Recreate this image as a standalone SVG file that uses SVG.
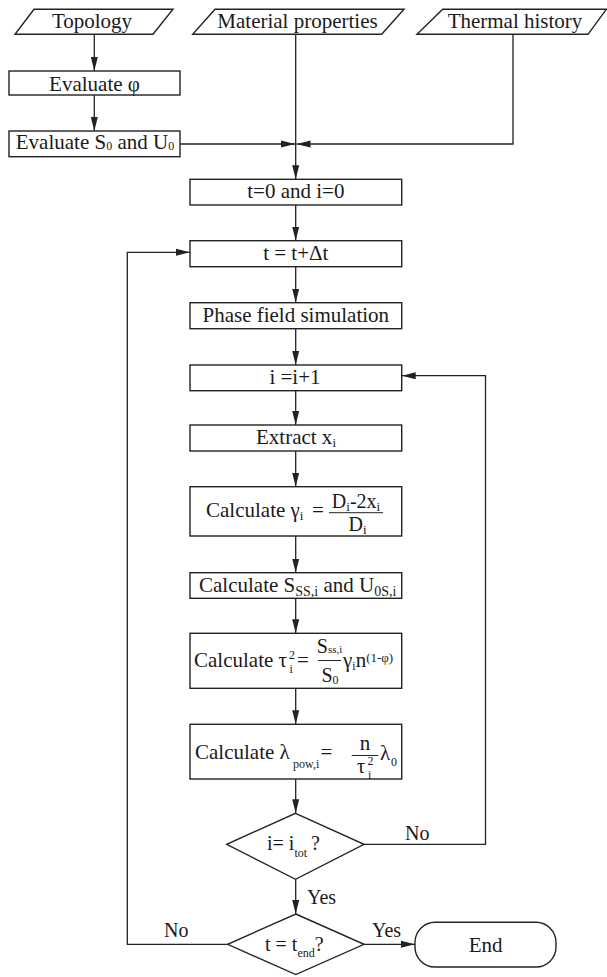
<svg xmlns="http://www.w3.org/2000/svg" width="607" height="977" viewBox="0 0 607 977" font-family="'Liberation Serif', 'Times New Roman', Times, serif">
<style>
.shape{fill:#fff;stroke:#222;stroke-width:1.4}
.ln{fill:none;stroke:#222;stroke-width:1.3}
.arr{marker-end:url(#ah)}
.fl{stroke:#222;stroke-width:1}
text{font-family:'Liberation Serif','Times New Roman',Times,serif;fill:#1a1a1a;font-size:21px}
.m{text-anchor:middle}
.lb{font-size:20px}
.s{font-size:12px}
.s13{font-size:13px}
.s14{font-size:14px}
</style>
<defs>
<marker id="ah" markerUnits="userSpaceOnUse" markerWidth="14" markerHeight="8" refX="14" refY="4" orient="auto"><path d="M0,0.5 L14,4 L0,7.5 z" fill="#222"/></marker>
</defs>
<rect x="0" y="0" width="607" height="977" fill="#fff"/>

<g id="connectors">
<path class="ln arr" d="M94.3,34.3 V71"/>
<path class="ln arr" d="M94.3,95 V131"/>
<path class="ln arr" d="M180,144 H295"/>
<path class="ln arr" d="M513,34.3 V144 H296.5"/>
<path class="ln arr" d="M295.7,34.3 V179.3"/>
<path class="ln arr" d="M295.7,205 V240.7"/>
<path class="ln arr" d="M295.7,266.7 V302.7"/>
<path class="ln arr" d="M295.7,328.7 V365"/>
<path class="ln arr" d="M295.7,390.7 V425"/>
<path class="ln arr" d="M295.7,451 V486.7"/>
<path class="ln arr" d="M295.7,536 V572.7"/>
<path class="ln arr" d="M295.7,598.3 V633.3"/>
<path class="ln arr" d="M295.7,688.3 V724.3"/>
<path class="ln arr" d="M295.7,779 V813.3"/>
<path class="ln arr" d="M295.7,879.3 V914"/>
<path class="ln arr" d="M364,844.3 H485.5 V375.7 H401.7"/>
<path class="ln arr" d="M227.7,944.3 H127.3 V252.3 H190"/>
<path class="ln arr" d="M364,944.3 H415"/>
<text class="lb" x="405" y="840">No</text>
<text class="lb" x="307" y="904">Yes</text>
<text class="lb" x="164" y="936.7">No</text>
<text class="lb" x="372" y="936.7">Yes</text>
</g>

<g id="topology">
<polygon class="shape" points="34,9.3 173,9.3 153,34.3 15,34.3"/>
<text class="m" x="92" y="28.3">Topology</text>
</g>
<g id="material-properties">
<polygon class="shape" points="215,9.3 404,9.3 381.7,34.3 192.7,34.3"/>
<text class="m" x="297.5" y="28.3">Material properties</text>
</g>
<g id="thermal-history">
<polygon class="shape" points="442.7,9.3 606.3,9.3 588,34.3 417,34.3"/>
<text class="m" x="515" y="28.3">Thermal history</text>
</g>
<g id="evaluate-phi">
<rect class="shape" x="9" y="71" width="171" height="24"/>
<text class="m" x="94.5" y="90.5">Evaluate φ</text>
</g>
<g id="evaluate-s0-u0">
<rect class="shape" x="9" y="131" width="171" height="25.7"/>
<text class="m" x="95" y="149">Evaluate S<tspan class="s" dy="1">0</tspan><tspan dy="-1"> and U</tspan><tspan class="s" dy="1">0</tspan></text>
</g>
<g id="init">
<rect class="shape" x="190" y="179.3" width="211.7" height="25.7"/>
<text class="m" x="295.8" y="198">t=0 and i=0</text>
</g>
<g id="time-step">
<rect class="shape" x="190" y="240.7" width="211.7" height="26"/>
<text class="m" x="295.8" y="260">t = t+Δt</text>
</g>
<g id="phase-field">
<rect class="shape" x="190" y="302.7" width="211.7" height="26"/>
<text class="m" x="295.8" y="322">Phase field simulation</text>
</g>
<g id="increment">
<rect class="shape" x="190" y="365" width="211.7" height="25.7"/>
<text class="m" x="295" y="384.3">i =i+1</text>
</g>
<g id="extract">
<rect class="shape" x="190" y="425" width="211.7" height="26"/>
<text class="m" x="296" y="443.5">Extract x<tspan class="s13" dy="3">i</tspan></text>
</g>
<g id="gamma">
<rect class="shape" x="190" y="486.7" width="211.7" height="49.3"/>
<text x="206" y="516.7">Calculate γ<tspan class="s13" dy="3">i</tspan></text>
<text x="312" y="516.7">=</text>
<line class="fl" x1="329" y1="512.7" x2="383" y2="512.7"/>
<text class="m lb" x="356" y="507.5">D<tspan class="s13" dy="3">i</tspan><tspan dy="-3">-2x</tspan><tspan class="s13" dy="3">i</tspan></text>
<text class="m lb" x="357.5" y="530.7">D<tspan class="s13" dy="3">i</tspan></text>
</g>
<g id="stress">
<rect class="shape" x="190" y="572.7" width="211.7" height="25.6"/>
<text x="199" y="591.7">Calculate S<tspan class="s14" dy="4">SS,i</tspan><tspan dy="-4"> and U</tspan><tspan class="s14" dy="4">0S,i</tspan></text>
</g>
<g id="tortuosity">
<rect class="shape" x="190" y="633.3" width="211.7" height="55"/>
<text x="194" y="666.7">Calculate τ</text>
<text class="s" x="289" y="659">2</text>
<text class="s" x="289.5" y="673">i</text>
<text x="297" y="666.7">=</text>
<line class="fl" x1="318" y1="660.5" x2="341" y2="660.5"/>
<text class="m lb" x="329.5" y="653.3">S<tspan style="font-size:11px">ss,i</tspan></text>
<text class="m lb" x="330" y="681.7">S<tspan class="s" dy="2">0</tspan></text>
<text x="343" y="666.7">γ<tspan class="s" dy="3">i</tspan><tspan dy="-3">n</tspan><tspan class="s13" dy="-5">(1-φ)</tspan></text>
</g>
<g id="lambda">
<rect class="shape" x="190" y="724.3" width="211.7" height="54.7"/>
<text x="195" y="758.5">Calculate λ</text>
<text class="s" x="293" y="768.3">pow,i</text>
<text x="320.5" y="758.5">=</text>
<line class="fl" x1="351.7" y1="755.5" x2="378.3" y2="755.5"/>
<text class="m" x="365" y="749.5">n</text>
<text class="lb" x="357" y="772.5">τ</text>
<text class="s" x="367.5" y="765">2</text>
<text class="s" x="368" y="779">i</text>
<text x="380" y="760">λ</text>
<text class="s" x="391" y="765.5">0</text>
</g>
<g id="decision-i">
<polygon class="shape" points="295.5,813.3 364,844.3 295.5,879.3 226.7,844.3"/>
<text class="lb" x="267" y="850">i= i<tspan class="s" dy="7">tot</tspan><tspan dx="4" dy="-7">?</tspan></text>
</g>
<g id="decision-t">
<polygon class="shape" points="295.8,914 364,944.3 295.8,974.6 227.7,944.3"/>
<text class="lb" x="265" y="950.7">t = t<tspan class="s" dy="6.6">end</tspan><tspan dy="-6.6">?</tspan></text>
</g>
<g id="end">
<rect class="shape" x="415" y="922.3" width="141" height="44.7" rx="20" ry="20"/>
<text class="m" x="485.7" y="952">End</text>
</g>
</svg>
